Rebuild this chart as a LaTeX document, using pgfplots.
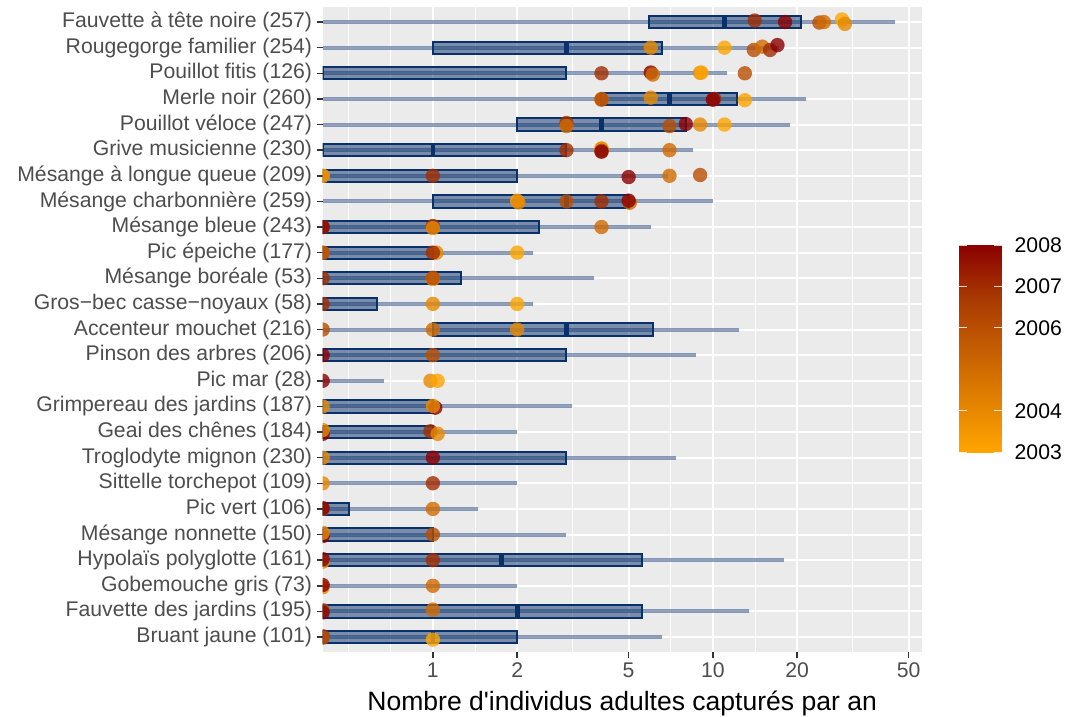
\documentclass[border=0pt]{standalone}
\usepackage{fontspec}
\setmainfont{Liberation Sans}[Ligatures=TeXOff]
\usepackage{pgfplots}
\usepackage{pgfplotstable}
\pgfplotsset{compat=1.18}
\definecolor{navyb}{RGB}{8,48,107}
\definecolor{panelbg}{RGB}{235,235,235}
\definecolor{tickgray}{RGB}{77,77,77}
\definecolor{tickmark}{RGB}{51,51,51}

% points: x (0 drawn at the panel edge 0.404), row, year
\pgfplotstableread{
x y year
14.1 25.06 2007
18.1 25 2008
24.0 24.98 2006
24.9 25.0 2005
28.9 25.1 2003
29.6 24.93 2004
6 24 2004
11 24 2003
14 23.91 2006
15 24.04 2005
16 23.91 2007
17 24.1 2008
4 23 2007
6 23.03 2008
6.1 22.95 2005
9 23.02 2004
9.1 23.03 2003
13 23 2006
4 22 2005
4 21.97 2006
6 22.05 2004
10.1 22 2007
10 21.97 2008
13 21.95 2003
3 21.06 2007
3 20.94 2005
7 20.94 2006
8 21.02 2008
9 21 2004
11 21 2003
3 20 2007
4 20.07 2003
4 20.05 2004
4 19.97 2006
4 19.94 2008
7 20 2005
0.404 19 2003
0.404 19 2004
1 19 2007
5 18.95 2008
7 19 2005
9 19.03 2006
2 18.03 2003
2.02 17.96 2004
3 18 2006
4 18 2007
5.05 17.95 2005
5 18.03 2008
0.404 17 2006
0.404 17 2008
1 17.04 2007
1 16.96 2004
4 17 2005
0.404 16 2005
0.404 16 2006
1.03 16 2004
1 16 2007
2 16 2003
0.404 15 2007
1 14.97 2004
1 15.02 2006
0.404 14 2007
1 14 2004
2 14 2003
0.404 13 2006
1 13 2005
2 13 2004
0.404 12 2008
1 12 2006
0.404 11 2008
0.98 11 2004
1.04 11 2003
1.02 9.95 2008
0.404 10 2004
1 10.02 2004
0.404 8.93 2008
0.404 9.08 2004
0.98 9.03 2007
1.04 8.93 2004
0.404 8 2004
1 8 2008
0.404 7 2004
1 7 2007
0.404 6 2006
0.404 6.03 2008
1 6 2005
0.404 4.94 2008
0.404 5.07 2004
1 5 2006
0.404 3.94 2004
0.404 4.04 2008
1 4 2007
0.404 2.94 2004
0.404 3.03 2008
1 3 2005
0.404 2.05 2006
0.404 1.96 2008
1 2.07 2005
0.404 1.03 2007
0.404 0.97 2006
1 0.9 2003
}\pts

% whisker: row, max
\newcommand\wh[2]{\addplot[whisk] coordinates {(0.404,#1) (#2,#1)};}
% box: row, q1, q3
\newcommand\bx[3]{\pgfmathsetmacro\ylo{#1-0.24}\pgfmathsetmacro\yhi{#1+0.24}%
 \edef\tmp{\noexpand\addplot[boxst] coordinates {(#2,\ylo) (#3,\ylo) (#3,\yhi) (#2,\yhi)} -- cycle;}\tmp}
% median: row, value
\newcommand\md[2]{\pgfmathsetmacro\ylo{#1-0.24}\pgfmathsetmacro\yhi{#1+0.24}%
 \edef\tmp{\noexpand\addplot[medst] coordinates {(#2,\ylo) (#2,\yhi)};}\tmp}

\begin{document}
\begin{tikzpicture}
\path[use as bounding box] (0,0) rectangle (801pt,-537.75pt);
\begin{axis}[
 at={(242.0pt,-489.3pt)}, anchor=south west,
 scale only axis, width=449.25pt, height=484.3pt,
 xmode=log, xmin=0.404, xmax=55.65, ymin=0.4, ymax=25.6,
 axis background/.style={fill=panelbg},
 axis line style={draw=none},
 xtick={1,2,5,10,20,50}, xticklabels={1,2,5,10,20,50},
 minor xtick={0.5,0.7071,1.4142,3.1623,7.0711,14.142,31.623},
 ytick={1,...,25},
 yticklabels={{Bruant jaune (101)},{Fauvette des jardins (195)},{Gobemouche gris (73)},{Hypolaïs polyglotte (161)},{Mésange nonnette (150)},{Pic vert (106)},{Sittelle torchepot (109)},{Troglodyte mignon (230)},{Geai des chênes (184)},{Grimpereau des jardins (187)},{Pic mar (28)},{Pinson des arbres (206)},{Accenteur mouchet (216)},{Gros−bec casse−noyaux (58)},{Mésange boréale (53)},{Pic épeiche (177)},{Mésange bleue (243)},{Mésange charbonnière (259)},{Mésange à longue queue (209)},{Grive musicienne (230)},{Pouillot véloce (247)},{Merle noir (260)},{Pouillot fitis (126)},{Rougegorge familier (254)},{Fauvette à tête noire (257)}},
 xmajorgrids, ymajorgrids, xminorgrids,
 major grid style={white, line width=1.5pt},
 minor grid style={white, line width=0.75pt},
 tick align=outside, major tick length=4.5pt, minor tick length=0pt,
 tick pos=left,
 major tick style={tickmark, line width=1.1pt},
 ticklabel style={font=\fontsize{15.9}{19}\selectfont, text=tickgray},
 xlabel={Nombre d'individus adultes capturés par an},
 xlabel style={font=\fontsize{19.9}{24}\selectfont, text=black, yshift=-2.5pt},
 point meta min=2003, point meta max=2008,
 colormap={yr}{rgb255=(255,165,0) rgb255=(226,129,0) rgb255=(197,93,2) rgb255=(168,56,2) rgb255=(139,0,0)},
 clip marker paths=true,
 whisk/.style={draw=navyb, draw opacity=0.45, line width=3pt},
 boxst/.style={draw=navyb, line width=1.5pt, fill=navyb, fill opacity=0.5},
 medst/.style={draw=navyb, line width=3.5pt},
 colorbar,
 colorbar/width=32pt,
 colorbar style={
   at={(parent axis.south east)}, anchor=south west,
   xshift=19.7pt, yshift=150.1pt,
   scale only axis, width=32pt, height=155.5pt,
   xmode=normal, ymode=normal,
   xmajorgrids=false, ymajorgrids=false, xminorgrids=false,
   axis background/.style={},
   ytick={2003,2004,2006,2007,2008},
   yticklabels={2003,2004,2006,2007,2008},
   yticklabel pos=right, ytick pos=both,
   tick align=inside, major tick length=6pt,
   every major tick/.style={white, line width=0.9pt, opacity=0.8},
   axis line style={draw=none},
   axis on top,
   yticklabel style={font=\fontsize{15.9}{19}\selectfont, text=black, xshift=6pt},
 },
]
\wh{25}{44.8}\bx{25}{5.9}{20.7}\md{25}{11.0}
\wh{24}{17.2}\bx{24}{1.0}{6.56}\md{24}{3.0}
\wh{23}{11.2}\bx{23}{0.404}{3.0}
\wh{22}{21.5}\bx{22}{4.0}{12.2}\md{22}{7.0}
\wh{21}{18.8}\bx{21}{2.0}{8.0}\md{21}{4.0}
\wh{20}{8.5}\bx{20}{0.404}{3.0}\md{20}{1.0}
\wh{19}{6.9}\bx{19}{0.404}{2.0}
\wh{18}{10}\bx{18}{1.0}{5.0}\md{18}{3.0}
\wh{17}{6.0}\bx{17}{0.404}{2.4}
\wh{16}{2.27}\bx{16}{0.404}{1.0}
\wh{15}{3.77}\bx{15}{0.404}{1.26}
\wh{14}{2.27}\bx{14}{0.404}{0.63}
\wh{13}{12.4}\bx{13}{1.0}{6.1}\md{13}{3.0}
\wh{12}{8.7}\bx{12}{0.404}{3.0}
\wh{11}{0.67}
\wh{10}{3.14}\bx{10}{0.404}{1.0}
\wh{9}{2.0}\bx{9}{0.404}{1.0}
\wh{8}{7.4}\bx{8}{0.404}{3.0}
\wh{7}{2.0}
\wh{6}{1.45}\bx{6}{0.404}{0.5}
\wh{5}{3.0}\bx{5}{0.404}{1.0}
\wh{4}{17.9}\bx{4}{0.404}{5.57}\md{4}{1.76}
\wh{3}{2.0}
\wh{2}{13.5}\bx{2}{0.404}{5.57}\md{2}{2.0}
\wh{1}{6.56}\bx{1}{0.404}{2.0}\md{1}{1.0}
\addplot[scatter, only marks, mark=*, mark size=5.4pt, scatter src=explicit,
  scatter/use mapped color={draw=mapped color, draw opacity=0, fill=mapped color, fill opacity=0.8}]
  table[x=x, y=y, meta=year]{\pts};
\end{axis}
\end{tikzpicture}
\end{document}
